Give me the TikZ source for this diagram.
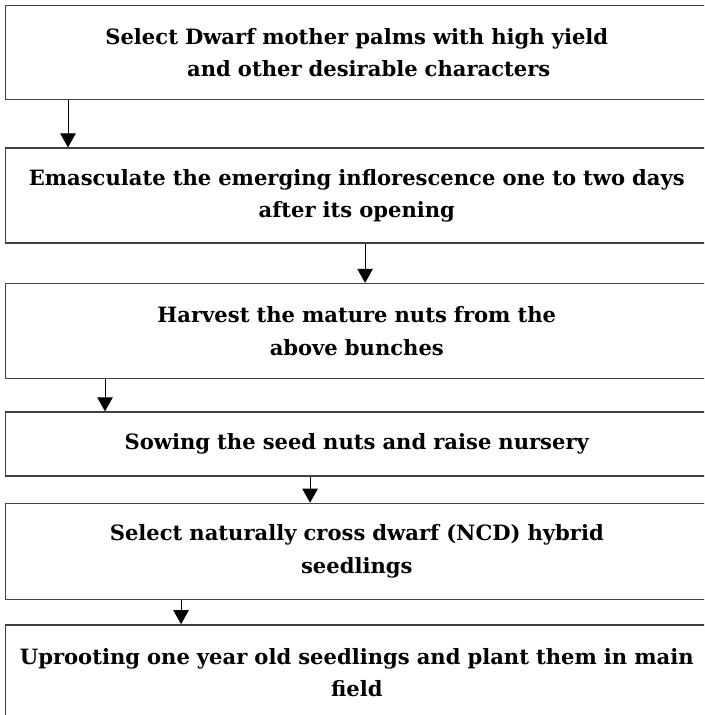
\documentclass[tikz,border=0pt]{standalone}
\usepackage{fontspec}
\setmainfont{DejaVu Serif}
\usetikzlibrary{arrows.meta,positioning}

\begin{document}
\begin{tikzpicture}[x=0.025cm, y=-0.025cm,
        stepbox/.style={draw=black!75, line width=1pt, rectangle,
                minimum width=17.55cm, text width=17.5cm, align=center, inner sep=0pt,
                font=\bfseries\fontsize{15}{23}\selectfont},
        flow/.style={-{Triangle[width=11pt,length=10pt]}, line width=0.7pt}]
                \useasboundingbox (0,0) rectangle (704,715);
                \clip (0,0) rectangle (704,715);

                \node [stepbox, minimum height=2.35cm, anchor=north west]
                                        (step1) at (5,5)
                                        {Select Dwarf mother palms with high yield\\
                                         \hspace*{0.6cm}and other desirable characters};
                \node [stepbox, minimum height=2.375cm,
                        below = 1.175cm of step1]
                                        (step2) {Emasculate the emerging inflorescence one to two days\\
                                                 after its opening};
                \node [stepbox, minimum height=2.375cm,
                        below = 0.975cm of step2]
                                        (step3) {Harvest the mature nuts from the\\
                                                 above bunches};
                \node [stepbox, minimum height=1.6cm,
                        below = 0.8cm of step3]
                                        (step4) {Sowing the seed nuts and raise nursery};
                \node [stepbox, minimum height=2.4cm,
                        below = 0.65cm of step4]
                                        (step5) {Select naturally cross dwarf (NCD) hybrid\\
                                                 seedlings};
                \node [stepbox, minimum height=2.4cm,
                        below = 0.6cm of step5]
                                        (step6) {Uprooting one year old seedlings and plant them in main\\
                                                 field};

                \draw[flow] ([xshift=1.575cm]step1.south west) -- ([xshift=1.575cm]step2.north west);
                \draw[flow] ([xshift=9.0cm]step2.south west) -- ([xshift=9.0cm]step3.north west);
                \draw[flow] ([xshift=2.5cm]step3.south west) -- ([xshift=2.5cm]step4.north west);
                \draw[flow] ([xshift=7.625cm]step4.south west) -- ([xshift=7.625cm]step5.north west);
                \draw[flow] ([xshift=4.4cm]step5.south west) -- ([xshift=4.4cm]step6.north west);
\end{tikzpicture}
\end{document}
